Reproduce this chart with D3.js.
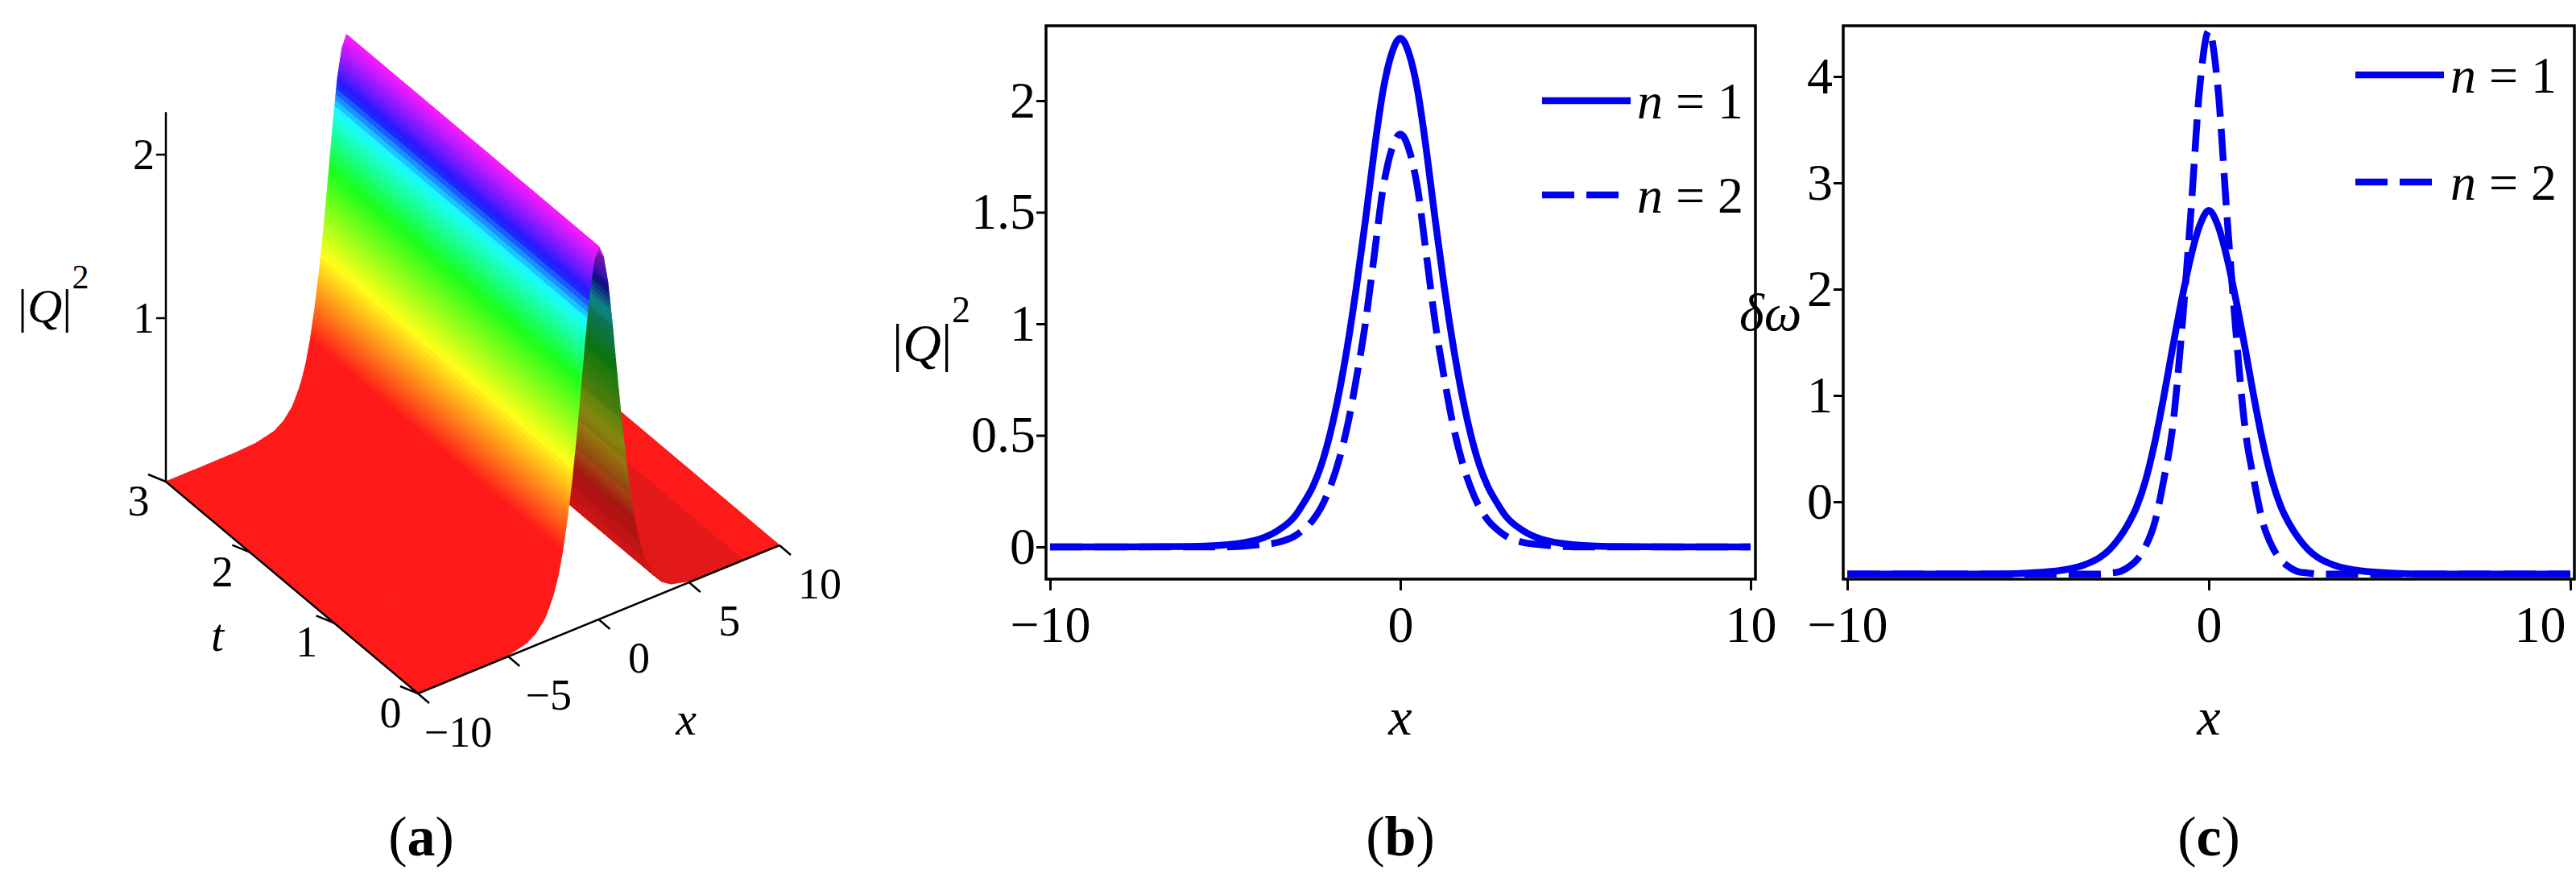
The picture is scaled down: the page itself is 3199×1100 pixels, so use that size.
<!DOCTYPE html>
<html><head><meta charset="utf-8">
<script src="https://cdn.jsdelivr.net/npm/d3@7"></script>
<style>body{margin:0;background:#fff}svg{display:block;font-family:"Liberation Serif","Times New Roman",serif}</style>
</head><body><svg id="c" width="3199" height="1100"></svg>
<script>
// values
const xs = [-10, -8, -6, -5, -4, -3.5, -3, -2.75, -2.5, -2.25, -2, -1.75, -1.5, -1.25, -1, -0.75, -0.5, -0.25, 0,
  0.25, 0.5, 0.75, 1, 1.25, 1.5, 1.75, 2, 2.25, 2.5, 2.75, 3, 3.5, 4, 5, 6, 8, 10];
const q1 = [0, 0, 0.002, 0.009, 0.036, 0.073, 0.14, 0.2, 0.27, 0.37, 0.51, 0.69, 0.91, 1.17, 1.46, 1.77, 2.04, 2.21, 2.28,
  2.21, 2.04, 1.77, 1.46, 1.17, 0.91, 0.69, 0.51, 0.37, 0.27, 0.2, 0.14, 0.073, 0.036, 0.009, 0.002, 0, 0];
const q2 = [0, 0, 0, 0, 0.01, 0.02, 0.05, 0.08, 0.12, 0.18, 0.27, 0.39, 0.55, 0.76, 1.0, 1.3, 1.6, 1.78, 1.85,
  1.78, 1.6, 1.3, 1.0, 0.76, 0.55, 0.39, 0.27, 0.18, 0.12, 0.08, 0.05, 0.02, 0.01, 0, 0, 0, 0];
const w1 = [-0.68, -0.68, -0.68, -0.67, -0.64, -0.6, -0.52, -0.45, -0.35, -0.22, -0.05, 0.2, 0.55, 0.98, 1.45, 1.9, 2.3, 2.6, 2.74,
  2.6, 2.3, 1.9, 1.45, 0.98, 0.55, 0.2, -0.05, -0.22, -0.35, -0.45, -0.52, -0.6, -0.64, -0.67, -0.68, -0.68, -0.68];
const w2 = [-0.68, -0.68, -0.68, -0.68, -0.68, -0.68, -0.68, -0.67, -0.66, -0.62, -0.55, -0.42, -0.2, 0.2, 0.7, 1.6, 2.7, 3.9, 4.43,
  3.9, 2.7, 1.6, 0.7, 0.2, -0.2, -0.42, -0.55, -0.62, -0.66, -0.67, -0.68, -0.68, -0.68, -0.68, -0.68, -0.68, -0.68];
const xTicks = [-10, 0, 10];
const qTicks = [0, 0.5, 1, 1.5, 2];
const wTicks = [0, 1, 2, 3, 4];
const ax3 = [-10, -5, 0, 5, 10], at3 = [0, 1, 2, 3], az3 = [1, 2];

const svg = d3.select("#c");
const blue = "#0000f0";
const minus = d => d < 0 ? "\u2212" + (-d) : String(d);

// ---- (a) 3D surface ----
const sx = d3.scaleLinear().domain([-10, 10]).range([0, 1]);
const st = d3.scaleLinear().domain([0, 3]).range([0, 1]);
const sz = d3.scaleLinear().domain([0, 1]).range([0, 203]);
function P(x, t, z) {
  const a = sx(x), b = st(t);
  return [519 + 449 * a - 313 * b, 861 - 184 * a - 263 * b - sz(z)];
}
const hue = d3.scaleLinear().domain([0, 0.5, 1.0, 1.5, 1.85, 2.0, 2.28]).range([0, 0, 60, 120, 180, 240, 300]).clamp(true);
const ga = svg.append("g");
const SUB = 8; // sub-strips per data interval, for smooth shading
d3.range(xs.length - 1).reverse().forEach(i => {
  const ix = d3.interpolateNumber(xs[i], xs[i + 1]), iz = d3.interpolateNumber(q1[i], q1[i + 1]);
  const slope = (q1[i + 1] - q1[i]) / (xs[i + 1] - xs[i]);
  d3.range(SUB).reverse().forEach(k => {
    const x0 = ix(k / SUB), x1 = ix((k + 1) / SUB), z0 = iz(k / SUB), z1 = iz((k + 1) / SUB);
    const c = d3.hsl(hue((z0 + z1) / 2), 1, 0.55);
    if (slope < 0) { c.l = Math.max(0.18, 0.5 + slope * 0.2); c.s = 0.8; }
    const pts = [P(x0, 0, z0), P(x1, 0, z1), P(x1, 3, z1), P(x0, 3, z0)];
    ga.append("path").attr("d", "M" + pts.join("L") + "Z")
      .attr("fill", c.formatHex()).attr("stroke", c.formatHex()).attr("stroke-width", 1.2);
  });
});
const axl = d3.line();
const ax = d => ga.append("path").attr("d", axl(d)).attr("stroke", "#000").attr("stroke-width", 2.5);
ax([P(-10, 3, 0), P(-10, 3, 2.26)]);
ax([P(-10, 0, 0), P(-10, 3, 0)]);
ax([P(-10, 0, 0), P(10, 0, 0)]);
az3.forEach(z => {
  const p = P(-10, 3, z);
  ax([p, [p[0] - 12, p[1]]]);
  ga.append("text").attr("x", p[0] - 14).attr("y", p[1] + 18).attr("text-anchor", "end").attr("font-size", 54).text(z);
});
at3.forEach(t => {
  const p = P(-10, t, 0);
  ax([p, [p[0] - 22, p[1] - 9]]);
  ga.append("text").attr("x", p[0] - 34).attr("y", p[1] + 42).attr("text-anchor", "middle").attr("font-size", 54).text(t);
});
ax3.forEach(x => {
  const p = P(x, 0, 0);
  ax([p, [p[0] + 14, p[1] + 12]]);
  ga.append("text").attr("x", p[0] + 50).attr("y", p[1] + 66).attr("text-anchor", "middle").attr("font-size", 54).text(minus(x));
});
ga.append("text").attr("x", 270).attr("y", 808).attr("font-style", "italic").attr("font-size", 58).attr("text-anchor", "middle").text("t");
ga.append("text").attr("x", 852).attr("y", 912).attr("font-style", "italic").attr("font-size", 58).attr("text-anchor", "middle").text("x");
const qa = ga.append("text").attr("x", 22).attr("y", 400).attr("font-size", 60);
qa.append("tspan").text("|");
qa.append("tspan").attr("font-style", "italic").text("Q");
qa.append("tspan").text("|");
qa.append("tspan").attr("dy", -42).attr("font-size", 42).text("2");
function tag(g, cx, t) {
  const lab = g.append("text").attr("x", cx).attr("y", 1062).attr("text-anchor", "middle").attr("font-size", 70);
  lab.append("tspan").text("(");
  lab.append("tspan").attr("font-weight", "bold").text(t);
  lab.append("tspan").text(")");
}
tag(ga, 523, "a");

// ---- 2D panels ----
function panel(o) {
  const g = svg.append("g");
  const x = d3.scaleLinear().domain([-10, 10]).range([o.x0, o.x1]);
  const y = d3.scaleLinear().domain(o.ydom).range([o.b, o.t]);
  const line = d3.line().x((d, i) => x(xs[i])).y(d => y(d)).curve(d3.curveMonotoneX);
  g.append("path").attr("d", line(o.s2)).attr("fill", "none").attr("stroke", blue).attr("stroke-width", 8.5).attr("stroke-dasharray", "40 15");
  g.append("path").attr("d", line(o.s1)).attr("fill", "none").attr("stroke", blue).attr("stroke-width", 8.5);
  g.append("rect").attr("x", o.fl).attr("y", o.t).attr("width", o.fr - o.fl).attr("height", o.b - o.t)
    .attr("fill", "none").attr("stroke", "#000").attr("stroke-width", 3.5);
  g.append("g").attr("transform", `translate(0,${o.b})`)
    .call(d3.axisBottom(x).tickValues(xTicks).tickSize(14).tickFormat(minus))
    .call(s => { s.select(".domain").remove(); s.selectAll("line").attr("stroke-width", 3);
      s.selectAll("text").attr("font-size", 64).attr("font-family", "Liberation Serif").attr("dy", "0.95em")
        .attr("dx", d => d === 10 ? o.lastDx : 0); });
  g.append("g").attr("transform", `translate(${o.fl},0)`)
    .call(d3.axisLeft(y).tickValues(o.yt).tickSize(12).tickPadding(1).tickFormat(d => String(d)))
    .call(s => { s.select(".domain").remove(); s.selectAll("line").attr("stroke-width", 3);
      s.selectAll("text").attr("font-size", 64).attr("font-family", "Liberation Serif"); });
  const cx = x(0);
  g.append("text").attr("x", cx).attr("y", 912).attr("text-anchor", "middle").attr("font-style", "italic").attr("font-size", 66).text("x");
  tag(g, cx, o.tag);
  [[o.ly1, null, "1"], [o.ly2, "40 15", "2"]].forEach(([ly, dash, n]) => {
    g.append("line").attr("x1", o.lx).attr("x2", o.lx + 110).attr("y1", ly).attr("y2", ly)
      .attr("stroke", blue).attr("stroke-width", 8.5).attr("stroke-dasharray", dash);
    const t = g.append("text").attr("x", o.lx + 118).attr("y", ly + 22).attr("font-size", 64);
    t.append("tspan").attr("font-style", "italic").text("n");
    t.append("tspan").text(" = " + n);
  });
  return g;
}
const yb = d3.scaleLinear().domain([0, 2]).range([679, 125]);
const gb = panel({x0: 1304, x1: 2174, fl: 1299, fr: 2180, t: 32, b: 719, ydom: [yb.invert(719), yb.invert(32)], yt: qTicks,
  s1: q1, s2: q2, tag: "b", lx: 1915, ly1: 125, ly2: 242, lastDx: 0});
const qb = gb.append("text").attr("x", 1108).attr("y", 448).attr("font-size", 66);
qb.append("tspan").text("|");
qb.append("tspan").attr("font-style", "italic").text("Q");
qb.append("tspan").text("|");
qb.append("tspan").attr("dy", -48).attr("font-size", 46).text("2");

const yc = d3.scaleLinear().domain([0, 4]).range([623, 95]);
const gc = panel({x0: 2294, x1: 3192, fl: 2289, fr: 3197, t: 32, b: 719, ydom: [yc.invert(719), yc.invert(32)], yt: wTicks,
  s1: w1, s2: w2, tag: "c", lx: 2925, ly1: 93, ly2: 226, lastDx: -38});
gc.append("text").attr("x", 2160).attr("y", 410).attr("font-style", "italic").attr("font-size", 66).text("\u03b4\u03c9");
</script></body></html>
